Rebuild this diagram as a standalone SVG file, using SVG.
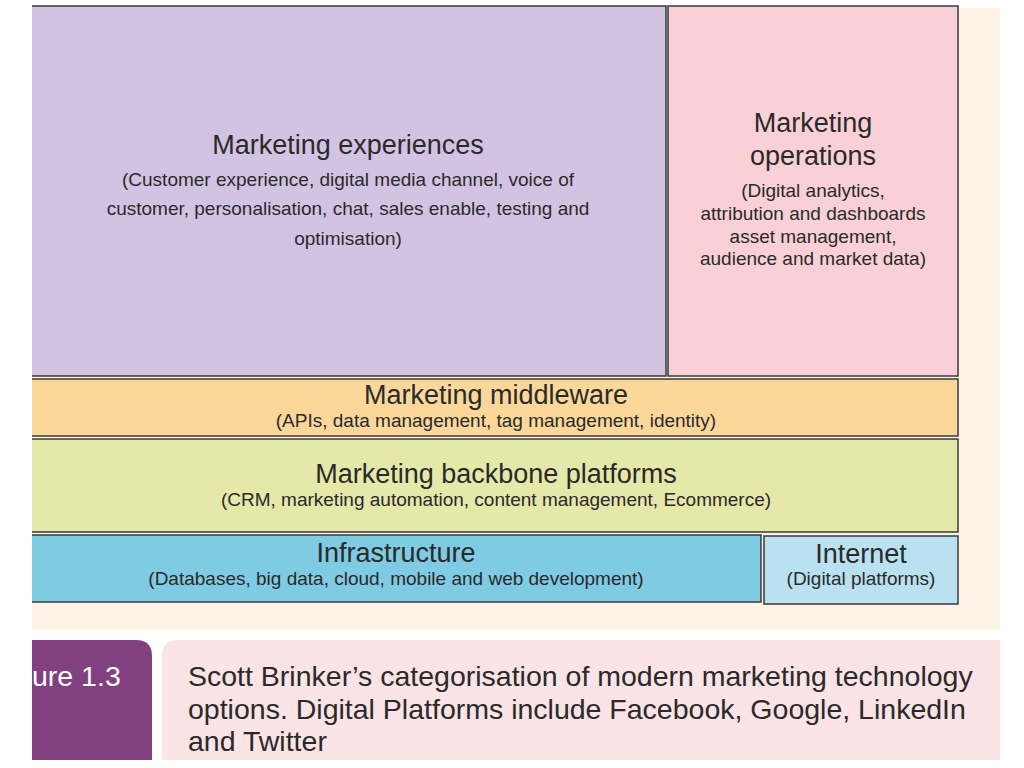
<svg xmlns="http://www.w3.org/2000/svg" width="1024" height="768" viewBox="0 0 1024 768">
<style>
.b{stroke:#3a3a3a;stroke-width:1.5}
text{font-family:"Liberation Sans",Arial,sans-serif;fill:#2a2a2a;text-anchor:middle}
.t{font-size:27px}
.s{font-size:19px}
.c{font-size:28.5px;text-anchor:start}
</style>
<rect width="1024" height="768" fill="#fff"/>
<rect x="32" y="8" width="968" height="622" fill="#fdf3e7"/>
<g id="experiences"><rect class="b" x="24" y="6" width="642" height="370" fill="#d3c3e3"/>
<text class="t" x="348" y="154">Marketing experiences</text>
<text class="s" x="348" y="186">(Customer experience, digital media channel, voice of</text>
<text class="s" x="348" y="215">customer, personalisation, chat, sales enable, testing and</text>
<text class="s" x="348" y="245">optimisation)</text></g>
<g id="operations"><rect class="b" x="668" y="6" width="290" height="370" fill="#f9d0d6"/>
<text class="t" x="813" y="132">Marketing</text>
<text class="t" x="813" y="165">operations</text>
<text class="s" x="813" y="197">(Digital analytics,</text>
<text class="s" x="813" y="220">attribution and dashboards</text>
<text class="s" x="813" y="243">asset management,</text>
<text class="s" x="813" y="265">audience and market data)</text></g>
<g id="middleware"><rect class="b" x="24" y="379" width="934" height="57" fill="#fbd79a"/>
<text class="t" x="496" y="404">Marketing middleware</text>
<text class="s" x="496" y="427">(APIs, data management, tag management, identity)</text></g>
<g id="backbone"><rect class="b" x="24" y="439" width="934" height="93" fill="#e5e8a8"/>
<text class="t" x="496" y="483">Marketing backbone platforms</text>
<text class="s" x="496" y="506">(CRM, marketing automation, content management, Ecommerce)</text></g>
<g id="infrastructure"><rect class="b" x="24" y="535" width="737" height="67" fill="#7ecbe3"/>
<text class="t" x="396" y="562">Infrastructure</text>
<text class="s" x="396" y="585">(Databases, big data, cloud, mobile and web development)</text></g>
<g id="internet"><rect class="b" x="764" y="536" width="194" height="68" fill="#b9e1f0"/>
<text class="t" x="861" y="563">Internet</text>
<text class="s" x="861" y="585">(Digital platforms)</text></g>
<rect x="0" y="0" width="32" height="640" fill="#fff"/>
<g id="connectors"/>
<g id="caption">
<path d="M32 640H136Q152 640 152 656V760H32Z" fill="#814080"/>
<text class="c" x="32" y="686" style="fill:#fff">ure 1.3</text>
<path d="M178 640H1000V760H162V656Q162 640 178 640Z" fill="#fbe3e6"/>
<text class="c" x="188" y="686">Scott Brinker’s categorisation of modern marketing technology</text>
<text class="c" x="188" y="719">options. Digital Platforms include Facebook, Google, LinkedIn</text>
<text class="c" x="188" y="751">and Twitter</text>
</g>
</svg>
